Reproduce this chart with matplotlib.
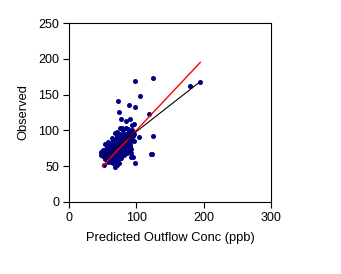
import matplotlib.pyplot as plt
import numpy as np

plt.rcParams['font.family'] = ['Liberation Sans', 'DejaVu Sans']

# predicted vs observed outflow concentration (ppb)
pred = [98, 124.8, 105.4, 72.8, 89, 98, 74.3, 118.8, 179.7, 194, 77, 90.6, 84, 96.5, 93,
        76, 78.7, 69, 87, 104, 124.8, 123.8, 121.8, 53, 98, 92.6, 95.5, 68.8, 71.8, 52,
        57.4, 49, 47, 91.6, 92,
        50, 51, 52, 53, 54, 55, 55, 56, 57, 58, 58, 59, 60, 60, 61, 62, 62, 63, 63, 64,
        64, 65, 65, 66, 66, 67, 67, 68, 68, 69, 69, 70, 70, 71, 71, 72, 72, 73, 73, 74,
        74, 75, 75, 76, 76, 77, 77, 78, 78, 79, 79, 80, 80, 81, 81, 82, 82, 83, 83, 84,
        84, 85, 85, 86, 86, 87, 87, 88, 88, 89, 89, 90, 90, 91, 92, 93, 94, 95, 96, 97,
        62, 66, 70, 74, 58, 64, 72, 76, 80, 84, 60, 57, 67, 71, 75, 79, 83, 87, 91, 56,
        54, 51, 48, 53]
obs = [169.5, 173.7, 148.5, 141.5, 136, 133, 126, 123, 162.5, 168, 116.4, 116, 113, 109.4, 107.5,
       103.8, 103.8, 97, 102, 91, 92.6, 67.5, 67.5, 81, 55, 62.8, 62.8, 48.9, 51.7, 52,
       55.4, 67.5, 66, 69, 74.5,
       70, 64, 68, 72, 60, 66, 74, 62, 70, 65, 78, 58, 72, 82, 68, 63, 75, 80, 70, 58,
       66, 72, 85, 62, 76, 69, 80, 74, 60, 66, 88, 72, 78, 64, 83, 70, 92, 76, 60, 80,
       68, 73, 88, 65, 79, 84, 71, 62, 76, 90, 80, 69, 86, 74, 95, 78, 66, 84, 91, 72,
       80, 88, 95, 77, 68, 84, 92, 80, 73, 90, 98, 84, 78, 93, 88, 96, 100, 92, 85, 95,
       56, 55, 57, 55, 84, 90, 98, 95, 100, 104, 68, 60, 64, 74, 62, 70, 76, 70, 80, 76,
       70, 72, 70, 65]

# 1:1 line and fitted regression line
line_x = [50, 195]
fit_slope = 0.737
fit_icpt = 24.5
fit_x = [50, 194]

fig = plt.figure(figsize=(3.41, 2.74), dpi=100)
ax = fig.add_axes([0.202, 0.263, 0.593, 0.653])

ax.scatter(pred, obs, marker='o', s=13, color='#000080', linewidths=0, zorder=3)
ax.plot(line_x, line_x, color='red', lw=1.0, zorder=4)
ax.plot(fit_x, fit_slope * np.array(fit_x) + fit_icpt, color='black', lw=0.8, zorder=4)

ax.set_xlim(0, 300)
ax.set_ylim(0, 250)
ax.set_xticks([0, 100, 200, 300])
ax.set_yticks([0, 50, 100, 150, 200, 250])
ax.tick_params(direction='out', length=4, width=0.8, labelsize=9, pad=3)
for s in ax.spines.values():
    s.set_linewidth(0.8)

ax.set_xlabel('Predicted Outflow Conc (ppb)', fontsize=9.3, labelpad=6)
ax.set_ylabel('Observed', fontsize=9.3, labelpad=6)

fig.savefig('out.png', dpi=100)
